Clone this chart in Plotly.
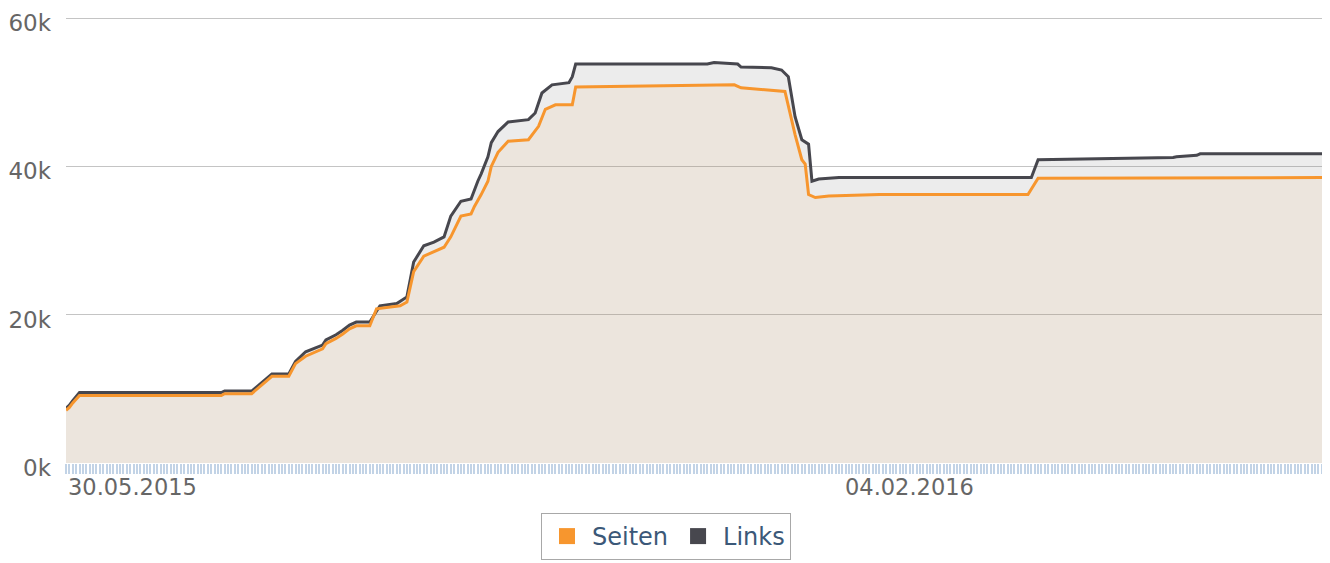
import plotly.graph_objects as go

# ---- data ----
seiten_dates = [
    "2015-05-30", "2015-05-31", "2015-06-01", "2015-06-03", "2015-07-15", "2015-07-16",
    "2015-07-24", "2015-07-30", "2015-08-04", "2015-08-06", "2015-08-09", "2015-08-14",
    "2015-08-15", "2015-08-18", "2015-08-20", "2015-08-22", "2015-08-24", "2015-08-28",
    "2015-08-30", "2015-09-05", "2015-09-06", "2015-09-08", "2015-09-10", "2015-09-13",
    "2015-09-16", "2015-09-19", "2015-09-21", "2015-09-24", "2015-09-27", "2015-09-28",
    "2015-09-30", "2015-10-02", "2015-10-03", "2015-10-05", "2015-10-08", "2015-10-14",
    "2015-10-17", "2015-10-19", "2015-10-22", "2015-10-27", "2015-10-28", "2015-12-08",
    "2015-12-14", "2015-12-16", "2015-12-25", "2015-12-29", "2016-01-01", "2016-01-03",
    "2016-01-04", "2016-01-05", "2016-01-07", "2016-01-11", "2016-01-26", "2016-03-10",
    "2016-03-13", "2016-06-06",
]
seiten_values = [
    7100, 7500, 8100, 9100, 9100, 9350,
    9350, 11700, 11700, 13400, 14400, 15400,
    16100, 16800, 17400, 18100, 18500, 18500,
    20800, 21100, 21200, 21700, 25800, 27900,
    28500, 29100, 30500, 33300, 33600, 34600,
    36200, 38000, 40000, 41900, 43400, 43600,
    45400, 47700, 48300, 48300, 50700, 51000,
    51000, 50600, 50300, 50100, 44300, 40900,
    40300, 36200, 35800, 36000, 36200, 36200,
    38400, 38500,
]

links_dates = [
    "2015-05-30", "2015-05-31", "2015-06-01", "2015-06-03", "2015-07-15", "2015-07-16",
    "2015-07-24", "2015-07-30", "2015-08-04", "2015-08-06", "2015-08-09", "2015-08-14",
    "2015-08-15", "2015-08-18", "2015-08-20", "2015-08-22", "2015-08-24", "2015-08-28",
    "2015-08-31", "2015-09-05", "2015-09-08", "2015-09-10", "2015-09-13", "2015-09-16",
    "2015-09-19", "2015-09-21", "2015-09-24", "2015-09-27", "2015-09-29", "2015-09-30",
    "2015-10-02", "2015-10-03", "2015-10-05", "2015-10-08", "2015-10-14", "2015-10-16",
    "2015-10-18", "2015-10-21", "2015-10-26", "2015-10-27", "2015-10-28", "2015-12-06",
    "2015-12-08", "2015-12-15", "2015-12-16", "2015-12-25", "2015-12-28", "2015-12-30",
    "2016-01-01", "2016-01-03", "2016-01-05", "2016-01-06", "2016-01-08", "2016-01-14",
    "2016-03-11", "2016-03-13", "2016-04-22", "2016-04-23", "2016-04-29", "2016-04-30",
    "2016-06-06",
]
links_values = [
    7400, 7800, 8400, 9500, 9500, 9700,
    9700, 12000, 12000, 13700, 15000, 15900,
    16600, 17300, 17900, 18600, 19000, 19000,
    21200, 21500, 22400, 27100, 29300, 29800,
    30500, 33300, 35300, 35600, 38000, 39000,
    41300, 43200, 44700, 46000, 46300, 47200,
    49900, 51000, 51300, 52100, 53800, 53800,
    54000, 53800, 53400, 53300, 53000, 52100,
    46700, 43600, 43000, 38000, 38300, 38500,
    38500, 40900, 41200, 41300, 41500, 41700,
    41700,
]

x_range = ["2015-05-30", "2016-06-06"]
x_label_dates = ["2015-05-30", "2016-02-04"]
x_label_text = ["30.05.2015", "04.02.2016"]
y_range = [0, 60150]
y_tick_vals = [0, 20000, 40000, 60000]
y_tick_text = ["0k", "20k", "40k", "60k"]

ORANGE = "#f7962e"
DARK = "#47474e"
FONT = "DejaVu Sans"

fig = go.Figure()

fig.add_trace(go.Scatter(
    x=links_dates, y=links_values, name="Links", mode="lines",
    line=dict(color=DARK, width=3), fill="tozeroy",
    fillcolor="rgba(128,128,128,0.15)", showlegend=False, hoverinfo="skip",
))
fig.add_trace(go.Scatter(
    x=seiten_dates, y=seiten_values, name="Seiten", mode="lines",
    line=dict(color=ORANGE, width=3), fill="tozeroy",
    fillcolor="rgba(247,147,47,0.08)", showlegend=False, hoverinfo="skip",
))

# legend entries (solid squares as in the reference)
fig.add_trace(go.Scatter(
    x=[None], y=[None], mode="markers", name="Seiten",
    marker=dict(symbol="square", size=24, color=ORANGE),
))
fig.add_trace(go.Scatter(
    x=[None], y=[None], mode="markers", name="Links",
    marker=dict(symbol="square", size=24, color=DARK),
))

for d, t, anchor in zip(x_label_dates, x_label_text, ["left", "center"]):
    fig.add_annotation(
        x=d, xref="x", y=0, yref="paper", yanchor="top", yshift=-9,
        xanchor=anchor, text=t, showarrow=False,
        font=dict(family=FONT, size=22.5, color="#666666"),
    )

# the page body adds an 8px offset, so the figure is sized to fit the window
fig.update_layout(
    width=1322, height=555,
    margin=dict(l=58, r=5, t=9, b=100, autoexpand=False),
    paper_bgcolor="white", plot_bgcolor="white",
    font=dict(family=FONT, size=23, color="#666666"),
    xaxis=dict(
        type="date", range=x_range, showgrid=False, zeroline=False, showline=False,
        automargin=False,
        tickmode="array", tickvals=x_label_dates, showticklabels=False,
        ticks="outside", ticklen=10, tickwidth=2.4, tickcolor="#c2d3e6",
        minor=dict(ticks="outside", dtick=86400000, ticklen=10, tickwidth=2.4,
                   tickcolor="#c2d3e6", showgrid=False),
    ),
    yaxis=dict(
        range=y_range, tickmode="array", tickvals=y_tick_vals, ticktext=y_tick_text,
        showgrid=True, gridcolor="#c4c4c4", gridwidth=1, zeroline=False, showline=False,
        automargin=False, ticks="", ticklabelstandoff=14, ticklabeloverflow="allow",
        ticklabelshift=5,
        tickfont=dict(family=FONT, size=23, color="#666666"),
    ),
    legend=dict(
        orientation="h", xref="container", yref="container",
        x=658 / 1322, xanchor="center", y=3 / 555, yanchor="bottom",
        bordercolor="#a8a8a8", borderwidth=1, bgcolor="white",
        font=dict(family=FONT, size=24, color="#3b5878"),
        itemwidth=40,
    ),
    showlegend=True,
)

fig.write_html("out.html")
